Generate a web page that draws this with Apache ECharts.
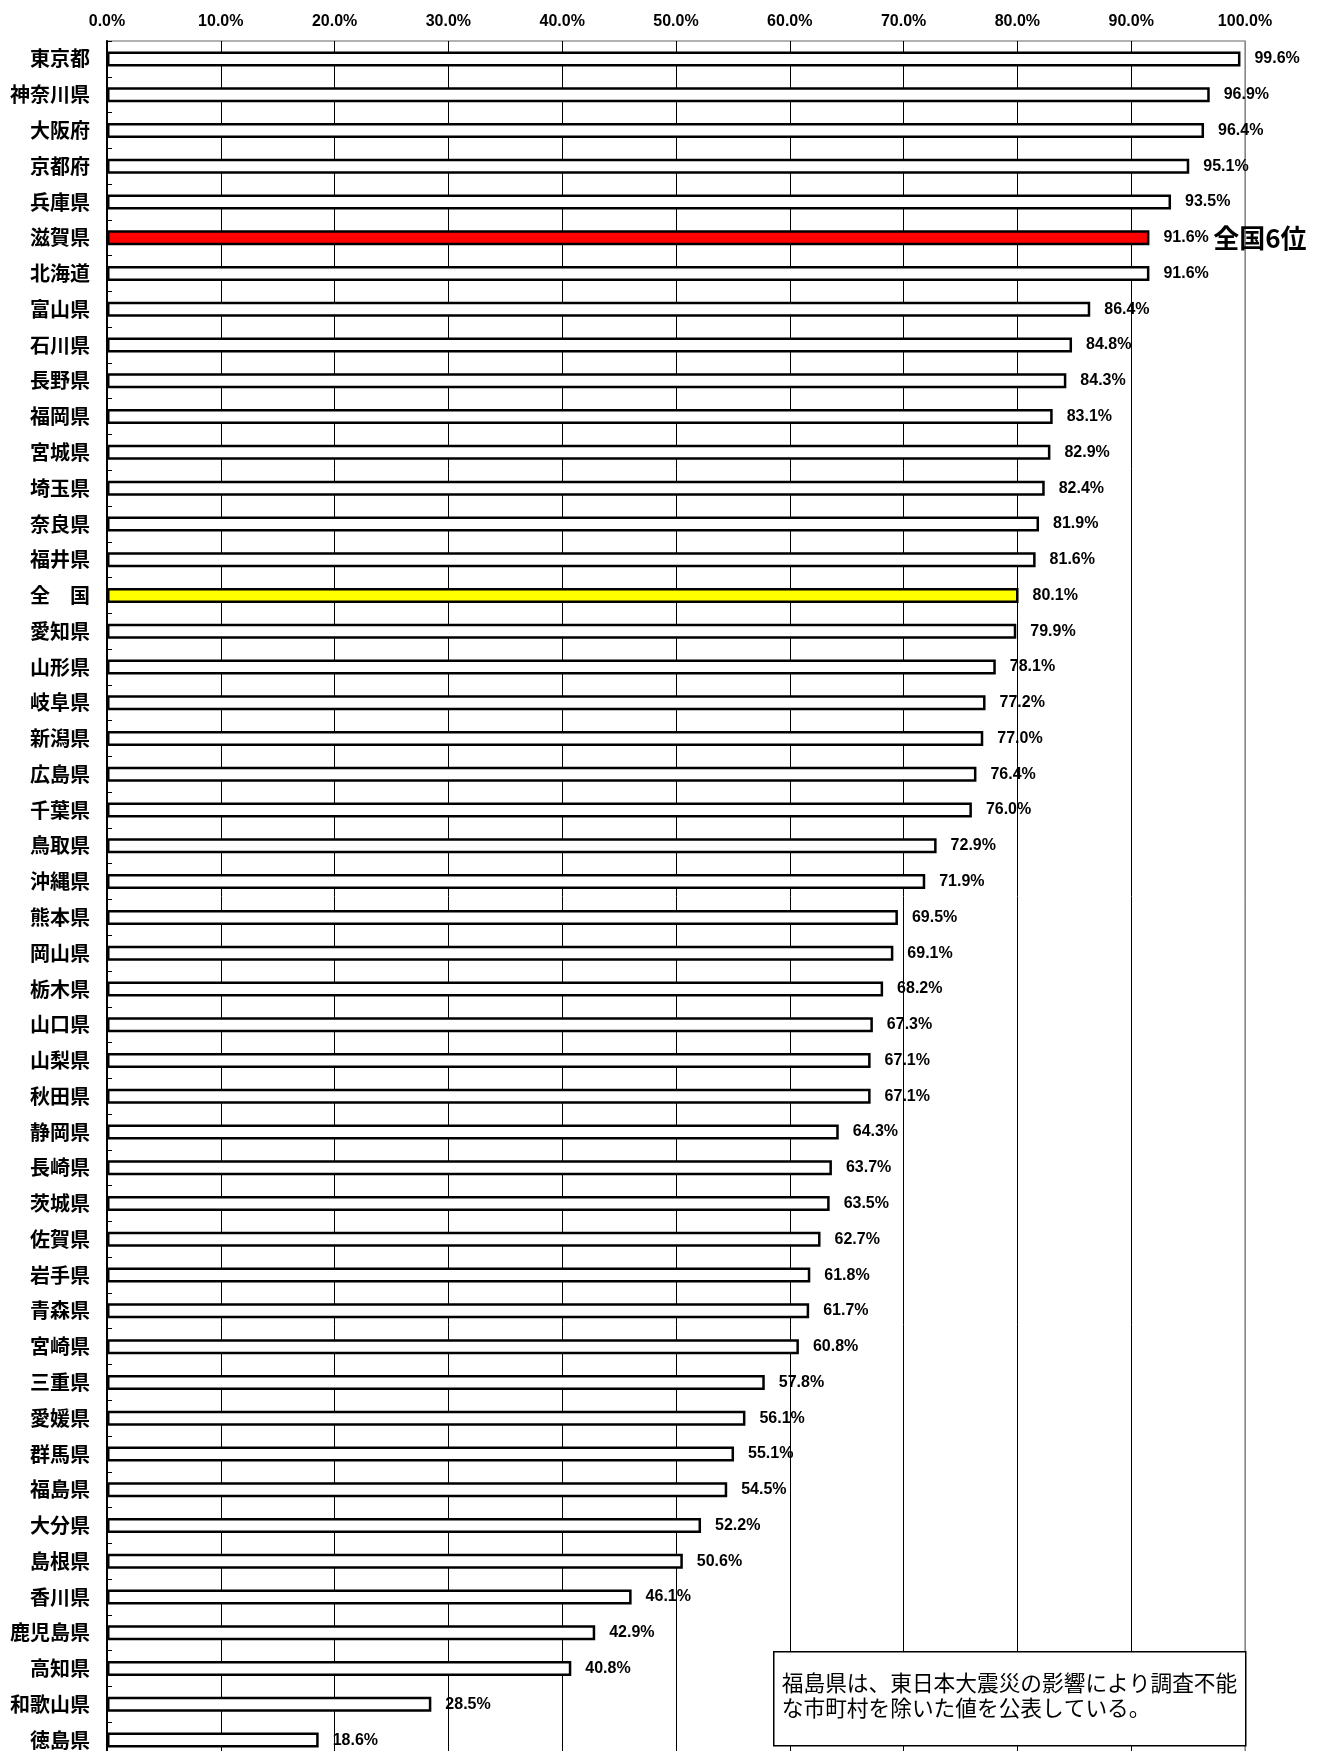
<!DOCTYPE html>
<html>
<head>
<meta charset="utf-8">
<title>chart</title>
<script src="https://cdn.jsdelivr.net/npm/echarts@6/dist/echarts.min.js"></script>
<style>
  html, body { margin: 0; padding: 0; background: #fff; }
  #main { width: 1323px; height: 1751px; }
</style>
</head>
<body>
<div id="main"></div>
<script>
// 都道府県
var categories = ['東京都', '神奈川県', '大阪府', '京都府', '兵庫県', '滋賀県', '北海道', '富山県', '石川県', '長野県',
  '福岡県', '宮城県', '埼玉県', '奈良県', '福井県', '全　国', '愛知県', '山形県', '岐阜県', '新潟県',
  '広島県', '千葉県', '鳥取県', '沖縄県', '熊本県', '岡山県', '栃木県', '山口県', '山梨県', '秋田県',
  '静岡県', '長崎県', '茨城県', '佐賀県', '岩手県', '青森県', '宮崎県', '三重県', '愛媛県', '群馬県',
  '福島県', '大分県', '島根県', '香川県', '鹿児島県', '高知県', '和歌山県', '徳島県'];
// 値（%）
var values = [99.6, 96.9, 96.4, 95.1, 93.5, 91.6, 91.6, 86.4, 84.8, 84.3,
  83.1, 82.9, 82.4, 81.9, 81.6, 80.1, 79.9, 78.1, 77.2, 77.0,
  76.4, 76.0, 72.9, 71.9, 69.5, 69.1, 68.2, 67.3, 67.1, 67.1,
  64.3, 63.7, 63.5, 62.7, 61.8, 61.7, 60.8, 57.8, 56.1, 55.1,
  54.5, 52.2, 50.6, 46.1, 42.9, 40.8, 28.5, 18.6];
// 目盛
var xTicks = [0, 10, 20, 30, 40, 50, 60, 70, 80, 90, 100];
var noteText = '福島県は、東日本大震災の影響により調査不能\nな市町村を除いた値を公表している。';

(function () {
  var chart = echarts.init(document.getElementById('main'));

  // 滋賀県は赤、全国は黄色
  var barData = values.map(function (v, i) {
    var name = categories[i];
    var color = '#fff';
    if (name === '滋賀県') color = '#ff0000';
    if (name === '全　国') color = '#ffff00';
    var item = { value: v, itemStyle: { color: color } };
    if (name === '滋賀県') {
      item.label = {
        formatter: function (p) { return '{a|' + p.value.toFixed(1) + '%} {b|全国6位}'; }
      };
    }
    return item;
  });

  var splitColors = xTicks.map(function (t) { return t === 100 ? '#888' : '#000'; });

  var option = {
    backgroundColor: '#fff',
    animation: false,
    grid: {
      left: 107,
      top: 41,
      width: 1138,
      height: 1717,
      outerBoundsMode: 'none',
      show: true,
      borderColor: '#999',
      borderWidth: 1.5,
      containLabel: false
    },
    xAxis: {
      type: 'value',
      position: 'top',
      min: xTicks[0],
      max: xTicks[xTicks.length - 1],
      interval: 10,
      axisLine: { show: false },
      axisTick: { show: false },
      axisLabel: {
        margin: 11,
        color: '#000',
        fontFamily: 'Liberation Sans',
        fontWeight: 'bold',
        fontSize: 16,
        formatter: function (v) { return v.toFixed(1) + '%'; }
      },
      splitLine: {
        show: true,
        lineStyle: { color: splitColors, width: 1 }
      }
    },
    yAxis: {
      type: 'category',
      inverse: true,
      data: categories,
      axisLine: { show: true, lineStyle: { color: '#000', width: 2 } },
      axisTick: { show: true, inside: true, length: 5, lineStyle: { color: '#000', width: 1 } },
      axisLabel: {
        margin: 17,
        color: '#000',
        fontFamily: 'Noto Sans CJK JP',
        fontWeight: 'bold',
        fontSize: 20
      }
    },
    series: [
      {
        type: 'bar',
        data: barData,
        barWidth: 15,
        itemStyle: { borderColor: '#000', borderWidth: 2.5 },
        label: {
          show: true,
          position: 'right',
          distance: 14,
          color: '#000',
          fontFamily: 'Liberation Sans',
          fontWeight: 'bold',
          fontSize: 16,
          formatter: function (p) { return p.value.toFixed(1) + '%'; },
          rich: {
            a: { fontFamily: 'Liberation Sans', fontWeight: 'bold', fontSize: 16, color: '#000' },
            b: { fontFamily: 'Noto Sans CJK JP', fontWeight: 'bold', fontSize: 26, color: '#000' }
          }
        }
      }
    ],
    graphic: [
      {
        type: 'group',
        left: 773,
        top: 1651,
        z: 100,
        children: [
          {
            type: 'rect',
            z: 100,
            shape: { x: 0, y: 0, width: 472, height: 94 },
            style: { fill: '#fff', stroke: '#000', lineWidth: 1.5 }
          },
          {
            type: 'text',
            z: 101,
            x: 8,
            y: 19,
            style: {
              text: noteText,
              fill: '#000',
              font: '21.7px "Noto Sans CJK JP"',
              lineHeight: 24.5
            }
          }
        ]
      }
    ]
  };

  chart.setOption(option);
  window.addEventListener('resize', function () {
    chart.resize();
  });
})();
</script>
</body>
</html>
